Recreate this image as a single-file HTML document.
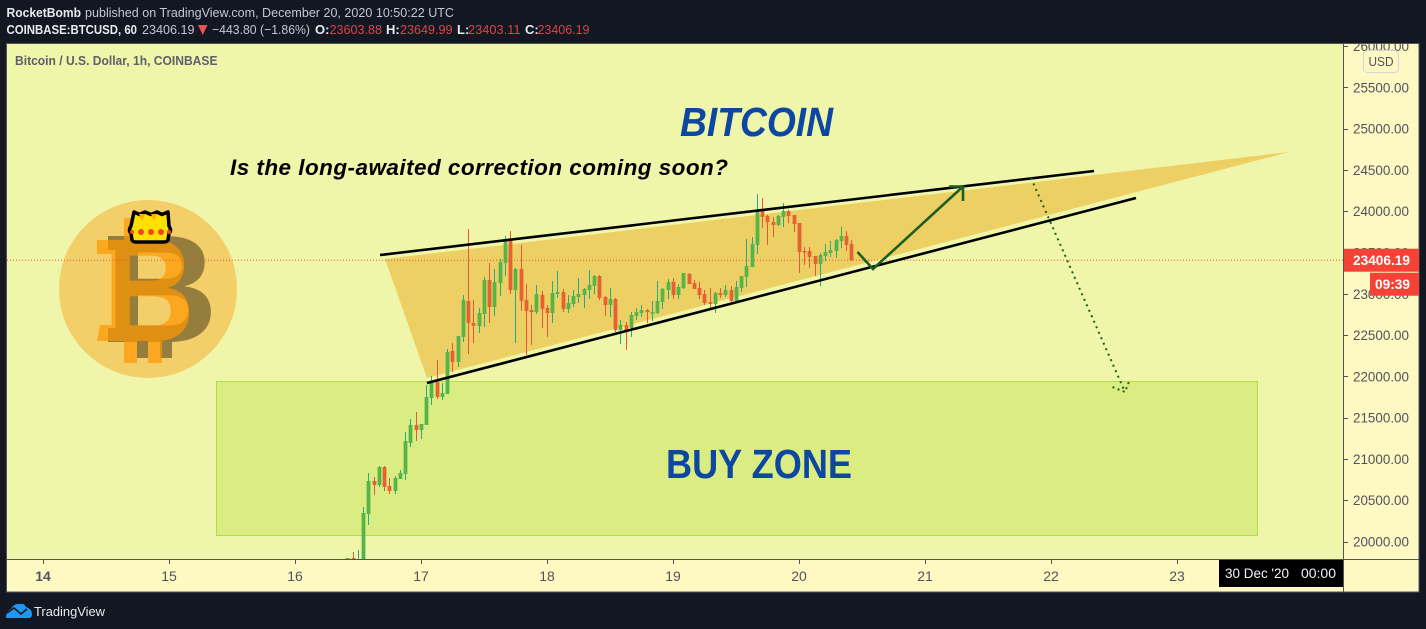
<!DOCTYPE html>
<html lang="en">
<head>
<meta charset="utf-8">
<title>BTCUSD chart</title>
<style>
html,body{margin:0;padding:0;background:#131722;}
body{width:1426px;height:629px;overflow:hidden;font-family:"Liberation Sans",sans-serif;}
svg{display:block;}
text{font-family:"Liberation Sans",sans-serif;}
</style>
</head>
<body>
<svg id="chart" width="1426" height="629" viewBox="0 0 1426 629" xmlns="http://www.w3.org/2000/svg">
  <defs>
    <clipPath id="plot-clip"><rect x="7" y="44" width="1336" height="515"/></clipPath>
    <clipPath id="axis-clip"><rect x="1344" y="44" width="75" height="515"/></clipPath>
  </defs>

  <rect x="0" y="0" width="1426" height="629" fill="#131722"/>

  <g font-size="13">
    <text x="6.5" y="17" font-weight="bold" fill="#e8eaf0" textLength="74.5" lengthAdjust="spacingAndGlyphs">RocketBomb</text>
    <text x="85" y="17" fill="#c4c7d0" textLength="369" lengthAdjust="spacingAndGlyphs">published on TradingView.com, December 20, 2020 10:50:22 UTC</text>
    <text x="6.5" y="34" font-weight="bold" fill="#e8eaf0" textLength="130.5" lengthAdjust="spacingAndGlyphs">COINBASE:BTCUSD, 60</text>
    <text x="142" y="34" fill="#c4c7d0" textLength="52.5" lengthAdjust="spacingAndGlyphs">23406.19</text>
    <polygon points="198,25 207.5,25 202.7,35" fill="#ef5350"/>
    <text x="212" y="34" fill="#c4c7d0" textLength="98" lengthAdjust="spacingAndGlyphs">−443.80 (−1.86%)</text>
    <text x="315" y="34" font-weight="bold" fill="#e8eaf0">O:</text>
    <text x="329.5" y="34" fill="#d9444a" textLength="52.5" lengthAdjust="spacingAndGlyphs">23603.88</text>
    <text x="386" y="34" font-weight="bold" fill="#e8eaf0">H:</text>
    <text x="400" y="34" fill="#d9444a" textLength="52.5" lengthAdjust="spacingAndGlyphs">23649.99</text>
    <text x="457" y="34" font-weight="bold" fill="#e8eaf0">L:</text>
    <text x="468" y="34" fill="#d9444a" textLength="52.5" lengthAdjust="spacingAndGlyphs">23403.11</text>
    <text x="525" y="34" font-weight="bold" fill="#e8eaf0">C:</text>
    <text x="537.5" y="34" fill="#d9444a" textLength="52" lengthAdjust="spacingAndGlyphs">23406.19</text>
  </g>

  <rect x="7" y="44" width="1336" height="515" fill="#eff5a9"/>
  <rect x="1344" y="44" width="75" height="515" fill="#fef9c2"/>
  <rect x="7" y="560" width="1412" height="32" fill="#fef9c2"/>

  <g>
    <polygon points="385,259 1289,152 427,378" fill="#edd063"/>
    <rect x="216.5" y="381.5" width="1041" height="154" fill="#daec82" stroke="#b5dc48" stroke-width="1"/>
    <g>
      <circle cx="148" cy="289" r="89" fill="#f3cf69"/>
      <g fill="#957e3d">
        <text x="105" y="342" font-size="154" font-weight="bold" textLength="113" lengthAdjust="spacingAndGlyphs">B</text>
        <rect x="108" y="236" width="12" height="14"/>
        <rect x="108" y="328" width="12" height="14"/>
        <rect x="137" y="338" width="11" height="20"/>
        <rect x="160" y="338" width="12" height="20"/>
      </g>
      <g opacity="0.7" fill="#ff9701">
        <text x="103" y="341" font-size="147" font-weight="bold" textLength="92" lengthAdjust="spacingAndGlyphs">B</text>
        <rect x="97" y="240" width="16" height="14"/>
        <polygon points="100,325 113,325 113,341 97,341"/>
        <rect x="124" y="341" width="13" height="22"/>
        <rect x="148" y="341" width="14" height="22"/>
        <rect x="124" y="218" width="13" height="22"/>
      </g>
      <g>
        <path d="M134,212 L139.5,214.5 L145,212 L151,214.5 L157,212 L162,214.5 L168,212 L169,226 Q172,231 169,233 L168,240 Q167,242 164,242 L136,242 Q133,242 132,240 L131,233 Q128,231 131,226 Z" fill="#ffe000" stroke="#000" stroke-width="3.5" stroke-linejoin="round"/>
        <polygon points="139,214 145,214 142,221" fill="#ffab00"/>
        <polygon points="151,214 157,214 154,221" fill="#ffab00"/>
        <circle cx="141" cy="232" r="3" fill="#f4431f"/>
        <circle cx="151" cy="232" r="3" fill="#f4431f"/>
        <circle cx="161" cy="232" r="3" fill="#f4431f"/>
        <circle cx="132" cy="232" r="2" fill="#f4431f"/>
        <circle cx="169" cy="232" r="2" fill="#f4431f"/>
      </g>
    </g>
  </g>

  <g id="price-axis"></g>
  <g id="time-axis"></g>
  <g id="candles" clip-path="url(#plot-clip)"></g>
  <g id="price-line"></g>

  <g>
    <line x1="380" y1="255" x2="1094" y2="171" stroke="#000" stroke-width="2.6"/>
    <line x1="427" y1="383" x2="1136" y2="198" stroke="#000" stroke-width="2.6"/>
    <polyline points="857.5,252 873,269 963,186.5" fill="none" stroke="#1b5e20" stroke-width="2.6"/>
    <polyline points="949,186.5 963,186.5 963,201" fill="none" stroke="#1b5e20" stroke-width="2.6"/>
    <line x1="1031" y1="178" x2="1125" y2="392" stroke="#1b5e20" stroke-width="2" stroke-dasharray="2 4"/>
    <polyline points="1112.5,387 1125,392 1130,379" fill="none" stroke="#1b5e20" stroke-width="2" stroke-dasharray="2 3.5"/>
    <text x="680" y="136" font-size="41" font-weight="bold" font-style="italic" fill="#0d47a1" textLength="153" lengthAdjust="spacingAndGlyphs">BITCOIN</text>
    <text x="230" y="175" font-size="22.5" font-weight="bold" font-style="italic" fill="#000" textLength="498" lengthAdjust="spacing">Is the long-awaited correction coming soon?</text>
    <text x="666" y="478" font-size="41" font-weight="bold" fill="#0d47a1" textLength="186" lengthAdjust="spacingAndGlyphs">BUY ZONE</text>
  </g>

  <text x="15" y="65" font-size="13" font-weight="bold" fill="#5d606b" textLength="202.5" lengthAdjust="spacingAndGlyphs">Bitcoin / U.S. Dollar, 1h, COINBASE</text>

  <g fill="none" stroke="#50535e" stroke-width="1">
    <rect x="6.5" y="43.5" width="1412.5" height="548.5"/>
    <line x1="1343.5" y1="44" x2="1343.5" y2="592"/>
    <line x1="7" y1="559.5" x2="1419" y2="559.5"/>
  </g>

  <g>
    <rect x="1363.5" y="50.5" width="35" height="22" rx="4" fill="#fef9c2" fill-opacity="0.85" stroke="#d1d4dc"/>
    <text x="1381" y="66" font-size="13" fill="#50535e" text-anchor="middle" textLength="25" lengthAdjust="spacingAndGlyphs">USD</text>
  </g>

  <g id="price-badges"></g>

  <g>
    <rect x="1219" y="560" width="124" height="27" fill="#000"/>
    <text x="1225" y="578" font-size="14" fill="#f0f3fa" textLength="64" lengthAdjust="spacingAndGlyphs">30 Dec '20</text>
    <text x="1301" y="578" font-size="14" fill="#f0f3fa" textLength="35" lengthAdjust="spacingAndGlyphs">00:00</text>
  </g>

  <g>
    <path d="M6,618 Q6,611 11,609 Q14,603 20,604 Q24,603 26,607 Q32,609 32,614 Q32,618 29,618 Z" fill="#2196f3"/>
    <polyline points="7,613 14,608 21,614 27,609" fill="none" stroke="#131722" stroke-width="1.6"/>
    <text x="34" y="616" font-size="13" fill="#e8eaf0" textLength="71" lengthAdjust="spacingAndGlyphs">TradingView</text>
  </g>
</svg>

<script>
const firstHour = -14;
const opens = [19776,19800,19600,19752,20333,20733,20684,20902,20672,20612,20757,20817,21193,21411,
21350,21411,21738,21932,21750,21786,22307,22174,22477,22913,
22646,22610,22755,23167,22840,23130,23373,23663,23046,23300,
22925,22803,22779,22985,22828,22767,22997,23021,22816,22876,
22961,22985,23046,23094,23215,22961,22864,22937,22561,22622,
22586,22731,22767,22803,22767,22767,22900,23046,23143,22985,
23070,23239,23130,23070,22997,22900,22876,23009,22985,23046,
22913,23070,23203,23324,23591,24014,23942,23869,23833,23930,
24002,23954,23857,23518,23518,23457,23361,23457,23494,23518,
23639,23700,23603];
const highs = [19800,19873,19897,20418,20830,20781,20914,20914,20769,20793,20866,21326,21483,21568,
21423,21895,22004,22198,21920,22331,22404,22489,22985,23784,
22925,22828,23203,23373,23300,23421,23700,23760,23312,23591,
23118,22864,23106,23034,22864,23155,23276,23058,22985,23046,
23191,23070,23288,23227,23227,22973,23070,22949,22682,22658,
22779,22828,22864,22816,22913,23155,23070,23179,23191,23118,
23251,23251,23167,23143,23046,23070,23021,23070,23106,23094,
23155,23215,23663,23688,24208,24160,23954,23930,23954,24099,
24014,23954,23857,23566,23566,23457,23494,23603,23639,23663,
23809,23760,23651];
const lows = [19750,19760,19560,19700,20200,20563,20660,20612,20575,20575,20757,20745,21144,21217,
21241,21411,21653,21726,21714,21786,22053,22113,22416,22271,
22404,22525,22598,22646,22731,22973,23215,22997,22404,22791,
22259,22380,22755,22586,22477,22646,22949,22779,22767,22840,
22888,22828,22937,22997,22925,22731,22719,22537,22392,22319,
22477,22682,22719,22646,22670,22755,22816,22937,22937,22937,
23058,23118,23058,22937,22864,22828,22767,22949,22961,22900,
22913,23021,23082,23324,23482,23796,23591,23688,23821,23809,
23857,23748,23251,23348,23312,23215,23094,23397,23445,23433,
23554,23518,23403];
const closes = [19800,19776,19700,20345,20733,20684,20902,20660,20612,20769,20830,21217,21411,21350,
21423,21750,21920,21750,21798,22295,22174,22489,22925,22646,
22610,22767,23167,22840,23143,23385,23639,23046,23300,22913,
22791,22779,22997,22816,22767,23009,23021,22816,22888,22973,
22997,23058,23106,23215,22949,22864,22937,22561,22622,22561,
22743,22779,22803,22779,22779,22913,23058,23143,22985,23082,
23251,23118,23058,22985,22888,22876,23009,22985,23046,22913,
23082,23215,23336,23603,24002,23930,23869,23833,23942,24002,
23942,23845,23506,23506,23445,23361,23470,23506,23530,23651,
23700,23591,23406];
const priceTicks = [26000,25500,25000,24500,24000,23500,23000,22500,22000,21500,21000,20500,20000];
const dayTicks = [14,15,16,17,18,19,20,21,22,23];
const lastPrice = [23406.19];
const countdown = ['09:39'];

const NS = 'http://www.w3.org/2000/svg';
function priceToY(p){ return 541.5 - (p - 20000) * 0.08258; }
function hourToX(h){ return 421.25 + h * 5.25; }
function dayToX(d){ return hourToX((d - 17) * 24) - 0.25; }
function mk(tag, parent, attrs){
  const el = document.createElementNS(NS, tag);
  for (const k in attrs) el.setAttribute(k, attrs[k]);
  parent.appendChild(el);
  return el;
}

const candleGroup = document.getElementById('candles');
opens.forEach(function(o, i){
  const c = closes[i], h = highs[i], l = lows[i];
  const up = c >= o;
  const xc = hourToX(firstHour + i);
  const g = mk('g', candleGroup, {});
  
  
  const yh = priceToY(h), yl = priceToY(l);
  const wx = Math.round(xc - 0.5);
  const wick = mk('rect', g, {x: wx, y: yh, width: 1, height: Math.max(yl - yh, 1), fill: up ? '#24ab8d' : '#e9563f', 'shape-rendering': 'crispEdges'});
  
  
  const yt = priceToY(Math.max(o, c)), yb = priceToY(Math.min(o, c));
  const body = mk('rect', g, {x: wx + 0.5 - 1.9, y: yt, width: 3.8, height: Math.max(yb - yt, 1.5), fill: up ? '#57b548' : '#e76233'});
  
  
});

const priceAxis = document.getElementById('price-axis');
priceTicks.forEach(function(p){
  const y = priceToY(p);
  const tick = mk('line', priceAxis, {x1: 1343, x2: 1348, y1: Math.round(y) + 0.5, y2: Math.round(y) + 0.5, stroke: '#50535e'});
  
  
  const t = mk('text', priceAxis, {x: 1353, y: y + 5, 'font-size': 14, fill: '#50535e', textLength: 56, lengthAdjust: 'spacingAndGlyphs', 'clip-path': 'url(#axis-clip)'});
  t.textContent = p.toFixed(2);
  
  
});

const timeAxis = document.getElementById('time-axis');
dayTicks.forEach(function(d, i){
  const x = dayToX(d);
  const tick = mk('line', timeAxis, {x1: Math.round(x) + 0.5, x2: Math.round(x) + 0.5, y1: 559, y2: 564, stroke: '#50535e'});
  
  
  const t = mk('text', timeAxis, {x: x, y: 581, 'font-size': 14, fill: '#50535e', 'text-anchor': 'middle', 'font-weight': i === 0 ? 'bold' : 'normal'});
  t.textContent = String(d);
  
  
});

const lineY = priceToY(lastPrice[0]);
const priceLine = mk('line', document.getElementById('price-line'), {x1: 7, x2: 1343, y1: lineY, y2: lineY, stroke: '#ef5340', 'stroke-width': 1, 'stroke-dasharray': '1 2'});



const badges = document.getElementById('price-badges');
const badge = mk('rect', badges, {x: 1344, y: lineY - 11.5, width: 75, height: 23, fill: '#f44336'});


const badgeText = mk('text', badges, {x: 1353, y: lineY + 5, 'font-size': 14, 'font-weight': 'bold', fill: '#fff', textLength: 57, lengthAdjust: 'spacingAndGlyphs'});
badgeText.textContent = lastPrice[0].toFixed(2);


const timer = mk('rect', badges, {x: 1370, y: lineY + 12.5, width: 49, height: 23, fill: '#f44336'});


const timerText = mk('text', badges, {x: 1375, y: lineY + 29, 'font-size': 14, 'font-weight': 'bold', fill: '#fff', textLength: 35, lengthAdjust: 'spacingAndGlyphs'});
timerText.textContent = countdown[0];


</script>
</body>
</html>
